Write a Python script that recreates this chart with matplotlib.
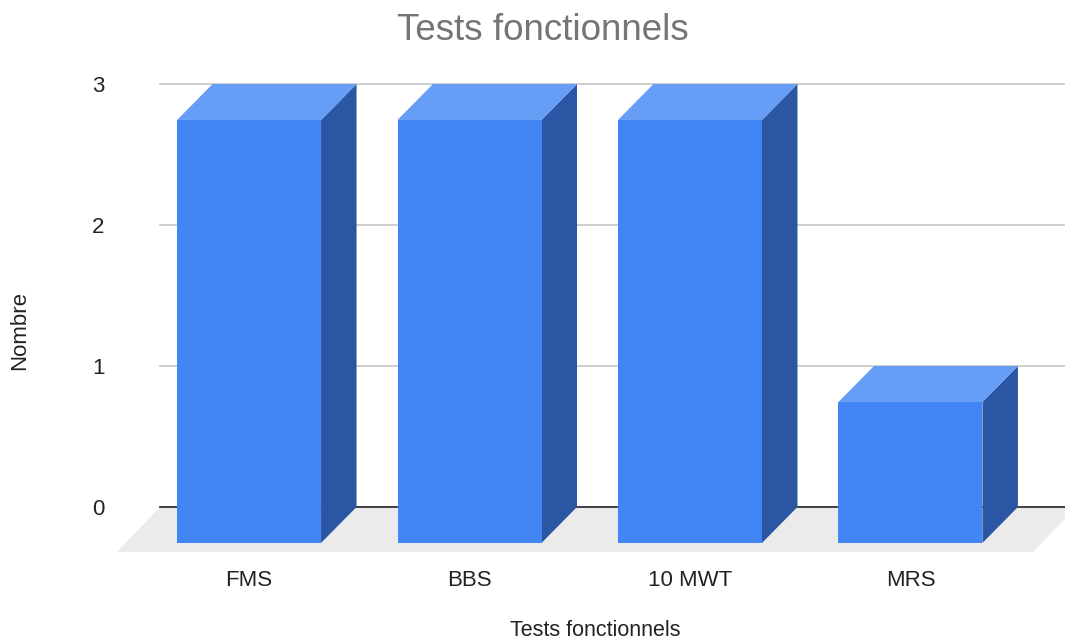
import matplotlib
matplotlib.use("Agg")
from matplotlib import pyplot as plt
from matplotlib.patches import Polygon

plt.rcParams['font.family'] = ['Liberation Sans', 'DejaVu Sans']

categories = ['FMS', 'BBS', '10 MWT', 'MRS']
values = [3, 3, 3, 1]
yticks = [0, 1, 2, 3]

front_c = '#4285F4'
top_c = '#669DF6'
side_c = '#2A56A3'
floor_c = '#EBEBEB'

fig = plt.figure(figsize=(10.65, 6.4), dpi=100)
# back plane of the 3d chart
ax = fig.add_axes([160 / 1065, 133 / 640, 905 / 1065, 423 / 640])
ax.set_xlim(-0.565, 3.54)
ax.set_ylim(0, 3)

# depth offsets (data units)
bdx, bdy = 0.161, 0.255   # bars
fdx, fdy = 0.195, 0.319   # floor
w = 0.653

# floor
x0, x1 = ax.get_xlim()
ax.add_patch(Polygon([(x0, 0), (x1 + 0.05, 0), (x1 + 0.05 - fdx, -fdy), (x0 - fdx, -fdy)],
                     closed=True, facecolor=floor_c, edgecolor='none', clip_on=False, zorder=1))

for t in yticks:
    ax.axhline(t, color='#333333' if t == 0 else '#CCCCCC', lw=1.3, clip_on=False, zorder=2)

for i, v in enumerate(values):
    l, r = i - w / 2, i + w / 2
    front = [(l - bdx, -bdy), (r - bdx, -bdy), (r - bdx, v - bdy), (l - bdx, v - bdy)]
    top = [(l - bdx, v - bdy), (r - bdx, v - bdy), (r, v), (l, v)]
    side = [(r - bdx, -bdy), (r, 0), (r, v), (r - bdx, v - bdy)]
    for pts, c in ((side, side_c), (top, top_c), (front, front_c)):
        ax.add_patch(Polygon(pts, closed=True, facecolor=c, edgecolor='none', clip_on=False, zorder=3))

for s in ax.spines.values():
    s.set_visible(False)
ax.set_yticks(yticks)
ax.set_yticklabels([str(t) for t in yticks])
ax.set_xticks([i - bdx for i in range(len(categories))])
ax.set_xticklabels(categories)
ax.tick_params(axis='y', length=0, pad=40, labelsize=16, labelcolor='#222222')
ax.tick_params(axis='x', length=0, pad=45, labelsize=16, labelcolor='#222222')

fig.text(543 / 1065, 1 - 30 / 640, 'Tests fonctionnels', ha='center', va='center',
         fontsize=26.5, color='#757575')
fig.text(595 / 1065, 1 - 630 / 640, 'Tests fonctionnels', ha='center', va='center',
         fontsize=15.5, color='#222222')
fig.text(20 / 1065, 1 - 330 / 640, 'Nombre', ha='center', va='center', rotation=90,
         fontsize=16, color='#222222')

fig.savefig('out.png', dpi=100)
